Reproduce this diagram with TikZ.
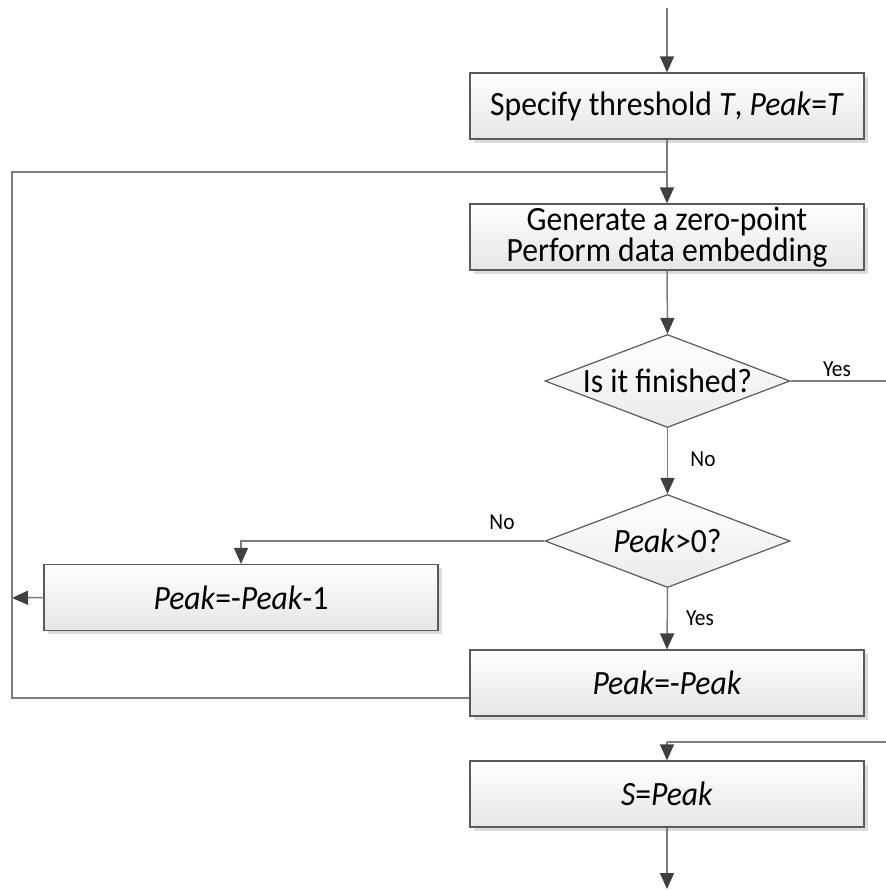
\documentclass[tikz,border=0pt]{standalone}
\usepackage{fontspec}
\setmainfont{Carlito}[FakeStretch=0.93]
\usetikzlibrary{arrows.meta,shapes.geometric,shadows,calc}

\definecolor{linecol}{RGB}{125,125,125}
\definecolor{headcol}{RGB}{64,64,64}
\definecolor{boxcol}{RGB}{90,90,90}

\tikzset{
  procbox/.style={draw=boxcol, line width=0.6pt, top color=white, bottom color=black!10,
    minimum width=197pt, minimum height=33pt, inner sep=0pt, align=center,
    font=\fontsize{17}{15.5}\selectfont,
    drop shadow={shadow xshift=1.8pt, shadow yshift=-1.8pt, fill=black!14, opacity=1}},
  decision/.style={diamond, draw=boxcol, line width=0.6pt, top color=white, bottom color=black!8,
    aspect=2.63, minimum width=122.5pt, minimum height=46.5pt, inner sep=0pt,
    font=\fontsize{17}{15}\selectfont},
  flowlabel/.style={font=\fontsize{11.5}{13}\selectfont, inner sep=0pt},
  flow/.style={draw=linecol, line width=0.75pt},
  flowarrow/.style={flow, -{Triangle[length=8pt, width=7pt, color=headcol]}}
}

\begin{document}
\begin{tikzpicture}[x=0.5pt, y=-0.5pt]
  \useasboundingbox (0,0) rectangle (886,890);

  % process steps and decisions
  \node[procbox] (spec) at (667,106) {Specify threshold \textit{T}, \textit{Peak}=\textit{T}};
  \node[procbox] (gen) at (667,237) {Generate a zero-point\\Perform data embedding};
  \node[decision] (done) at (667.5,381) {Is it finished?};
  \node[decision] (pos) at (667.5,541) {\textit{Peak}>0?};
  \node[procbox] (neg) at (241,597.5) {\textit{Peak}=-\textit{Peak}-1};
  \node[procbox] (flip) at (667,683) {\textit{Peak}=-\textit{Peak}};
  \node[procbox] (res) at (667,794) {\textit{S}=\textit{Peak}};

  % branch labels
  \node[flowlabel] (yes1) at (837,369) {Yes};
  \node[flowlabel] (no1) at (703,459) {No};
  \node[flowlabel] (no2) at (502,522) {No};
  \node[flowlabel] (yes2) at (700,618) {Yes};

  % free ends and bends
  \coordinate (start) at (667,8);
  \coordinate (join) at (667,172);
  \coordinate (finish) at (886,381);
  \coordinate (loopL) at (12,598);
  \coordinate (loopTop) at (12,172);
  \coordinate (loopBot) at (12,698);
  \coordinate (flipOut) at ($(flip.west)+(0,15)$);
  \coordinate (resIn) at (886,742);
  \coordinate (resBend) at (667,742);
  \coordinate (stop) at (667,889);

  % connectors
  \draw[flowarrow] (start) -- (spec.north);
  \draw[flowarrow] (spec.south) -- (gen.north);
  \draw[flowarrow] (gen.south) -- (done.north);
  \draw[flow] (done.east) -- (finish);
  \draw[flowarrow] (done.south) -- (pos.north);
  \draw[flowarrow] (pos.west) -| (neg.north);
  \draw[flowarrow] (neg.west) -- (loopL);
  \draw[flowarrow] (pos.south) -- (flip.north);
  \draw[flow] (flipOut) -- (loopBot) -- (loopTop) -- (join);
  \draw[flow] (resIn) -- (resBend);
  \draw[flowarrow] (resBend) -- (res.north);
  \draw[flowarrow] (res.south) -- (stop);
\end{tikzpicture}
\end{document}
